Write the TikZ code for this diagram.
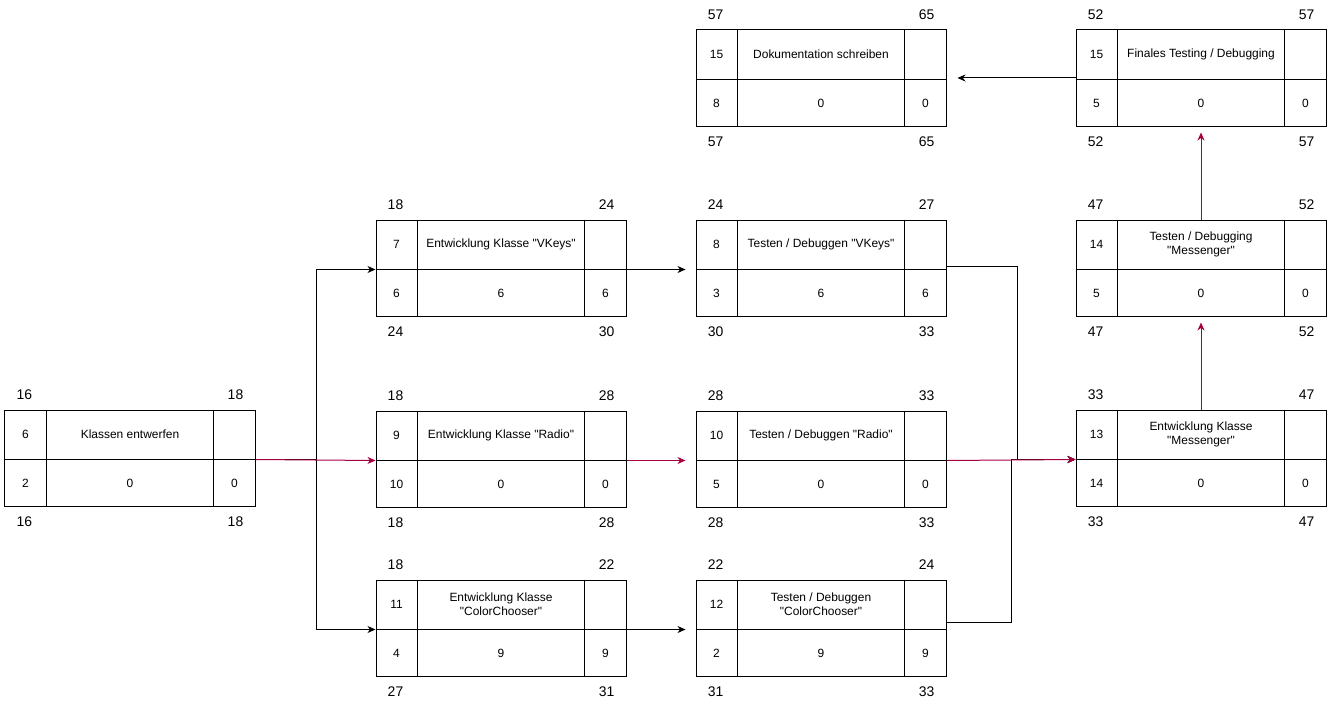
\documentclass[tikz,border=0pt]{standalone}
\usepackage{fontspec}
\setmainfont{Liberation Sans}[Ligatures=TeXOff]
\usetikzlibrary{arrows.meta,calc}
\definecolor{crim}{HTML}{A50040}
\tikzset{
  pbox/.style={draw, line width=1bp, minimum width=250bp, minimum height=96bp, inner sep=0pt},
  edge/.style={line width=1bp},
  intext/.style={font=\fontsize{12}{14}\selectfont, inner sep=0pt},
  outtext/.style={font=\fontsize{14}{16}\selectfont, inner sep=0pt},
  blk/.style={draw, line width=1bp, -{Stealth[length=8bp,width=7bp,inset=2.5bp]}},
  crit/.style={draw=crim, line width=1bp, -{Stealth[length=8bp,width=7bp,inset=2.5bp]}},
}
\newcommand{\netbox}[8]{%
  \node[pbox] (#1) at (#2+125,#3+48) {};
  \coordinate (#1-l) at ([yshift=-50bp]#1.north west);
  \coordinate (#1-r) at ([yshift=-50bp]#1.north east);
  \draw[edge] (#1-l) -- (#1-r);
  \draw[edge] ([xshift=42bp]#1.north west) -- ([xshift=42bp]#1.south west);
  \draw[edge] ([xshift=-42bp]#1.north east) -- ([xshift=-42bp]#1.south east);
  \node[intext] (#1-id) at ([xshift=21bp,yshift=-25bp]#1.north west) {#4};
  \node[intext,align=center] (#1-title) at ([yshift=-25bp]#1.north) {#5};
  \node[intext] (#1-dur) at ([xshift=21bp,yshift=23bp]#1.south west) {#6};
  \node[intext] (#1-gp) at ([yshift=23bp]#1.south) {#7};
  \node[intext] (#1-fp) at ([xshift=-21bp,yshift=23bp]#1.south east) {#8};
}
\newcommand{\netlabels}[5]{%
  \node[outtext] (#1-es) at ([xshift=20bp,yshift=15bp]#1.north west) {#2};
  \node[outtext] (#1-ef) at ([xshift=-20bp,yshift=15bp]#1.north east) {#3};
  \node[outtext] (#1-ls) at ([xshift=20bp,yshift=-15bp]#1.south west) {#4};
  \node[outtext] (#1-lf) at ([xshift=-20bp,yshift=-15bp]#1.south east) {#5};
}
\begin{document}
\begin{tikzpicture}[x=1bp,y=-1bp]
\useasboundingbox (0,0) rectangle (1328,707);
\netbox{b1}{5}{410}{6}{Klassen entwerfen}{2}{0}{0}
\netlabels{b1}{16}{18}{16}{18}
\netbox{b2}{376}{220}{7}{Entwicklung Klasse "VKeys"}{6}{6}{6}
\netlabels{b2}{18}{24}{24}{30}
\netbox{b3}{376}{411}{9}{Entwicklung Klasse "Radio"}{10}{0}{0}
\netlabels{b3}{18}{28}{18}{28}
\netbox{b4}{376}{580}{11}{Entwicklung Klasse\\"ColorChooser"}{4}{9}{9}
\netlabels{b4}{18}{22}{27}{31}
\netbox{b5}{696}{220}{8}{Testen / Debuggen "VKeys"}{3}{6}{6}
\netlabels{b5}{24}{27}{30}{33}
\netbox{b6}{696}{411}{10}{Testen / Debuggen "Radio"}{5}{0}{0}
\netlabels{b6}{28}{33}{28}{33}
\netbox{b7}{696}{580}{12}{Testen / Debuggen\\"ColorChooser"}{2}{9}{9}
\netlabels{b7}{22}{24}{31}{33}
\netbox{b8}{1076}{410}{13}{Entwicklung Klasse\\"Messenger"}{14}{0}{0}
\netlabels{b8}{33}{47}{33}{47}
\netbox{b9}{1076}{220}{14}{Testen / Debugging\\"Messenger"}{5}{0}{0}
\netlabels{b9}{47}{52}{47}{52}
\netbox{b10}{1076}{30}{15}{Finales Testing / Debugging}{5}{0}{0}
\netlabels{b10}{52}{57}{52}{57}
\netbox{b11}{696}{30}{15}{Dokumentation schreiben}{8}{0}{0}
\netlabels{b11}{57}{65}{57}{65}
% black connectors
\draw[blk] (b1-r) -- ++(61,0) |- (b2-l);
\draw[blk] (b1-r) -- ++(61,0) |- (b4-l);
\draw[blk, shorten >=10bp] (b2-r) -- (b5-l);
\draw[blk, shorten >=10bp] (b4-r) -- (b7-l);
\draw[blk] ([yshift=2bp]b5.east) -- ++(71,0) |- (b8-l);
\draw[blk] ([yshift=6bp]b7.east) -- ++(65,0) |- (b8-l);
\draw[blk, shorten >=11bp] (b10.west) -- (b11.east);
% critical connectors
\draw[crit] (b1-r) -- (b3-l);
\draw[crit, shorten >=10bp] (b3-r) -- (b6-l);
\draw[crit] (b6-r) -- (b8-l);
\draw[crit, shorten >=6bp] (b8.north) -- (b9.south);
\draw[crit, shorten >=6bp] (b9.north) -- (b10.south);
\end{tikzpicture}
\end{document}
